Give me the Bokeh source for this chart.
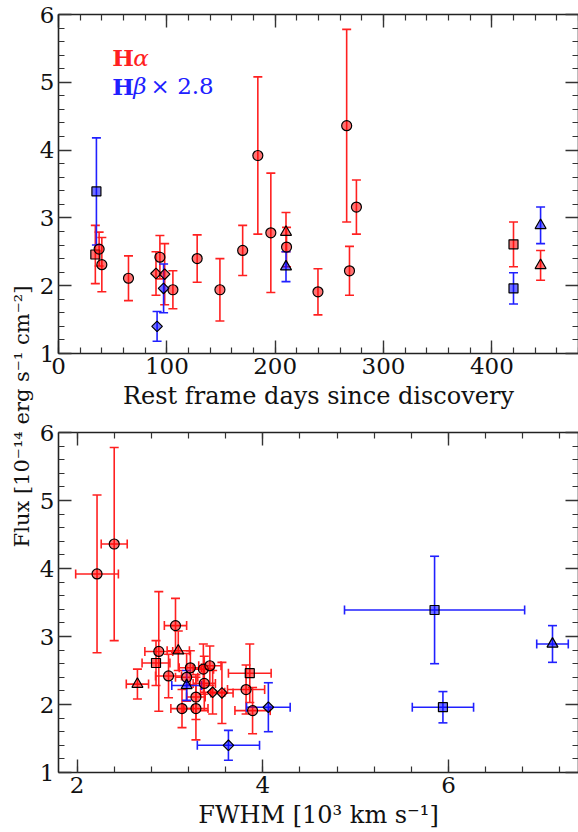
import numpy as np
from bokeh.plotting import figure
from bokeh.models import (ColumnDataSource, Whisker, TeeHead, LinearAxis,
                          FixedTicker, Label, Range1d, CustomLabelingPolicy)
from bokeh.layouts import row, column
from bokeh.embed import file_html
from bokeh.resources import INLINE

# ---------------- data ----------------
# H-alpha measurements
ha_marker = ["square", "circle", "circle", "circle", "diamond", "circle", "diamond",
             "circle", "circle", "circle", "circle", "circle", "circle", "triangle",
             "circle", "circle", "circle", "circle", "circle", "square", "triangle"]
ha_day = [34, 37.5, 40, 64.6, 90, 93.6, 98, 105.6, 128, 149, 170, 184, 196, 210,
          210.5, 239.5, 266, 268.6, 275, 420, 445]
ha_flux = [2.46, 2.54, 2.31, 2.11, 2.18, 2.42, 2.17, 1.94, 2.40, 1.94, 2.52, 3.92,
           2.78, 2.79, 2.57, 1.91, 4.36, 2.22, 3.16, 2.61, 2.30]
ha_flux_err = [0.43, 0.25, 0.40, 0.33, 0.32, 0.32, 0.45, 0.28, 0.35, 0.46, 0.37, 1.16,
               0.88, 0.29, 0.29, 0.34, 1.42, 0.36, 0.40, 0.33, 0.22]
ha_fwhm = [3.86, 3.22, 3.37, 3.28, 3.46, 2.985, 3.56, 3.13, 3.18, 3.28, 3.36, 2.215,
           2.88, 3.09, 3.43, 3.89, 2.40, 3.82, 3.06, 2.85, 2.65]
ha_fwhm_err = [0.23, 0.12, 0.12, 0.10, 0.13, 0.14, 0.12, 0.12, 0.12, 0.13, 0.11, 0.23,
               0.15, 0.12, 0.12, 0.19, 0.14, 0.20, 0.12, 0.15, 0.12]

# H-beta measurements (x 2.8)
hb_marker = ["square", "diamond", "diamond", "triangle", "square", "triangle"]
hb_day = [35, 91, 97, 210, 420, 445]
hb_flux = [3.39, 1.40, 1.96, 2.28, 1.96, 2.89]
hb_flux_err = [0.79, 0.22, 0.36, 0.22, 0.23, 0.27]
hb_fwhm = [5.85, 3.63, 4.06, 3.18, 5.94, 7.12]
hb_fwhm_err = [0.97, 0.335, 0.235, 0.16, 0.33, 0.17]

# ticks
day_ticks = [0, 100, 200, 300, 400]
flux_ticks = [1, 2, 3, 4, 5, 6]
fwhm_ticks = [2, 4, 6]

# ---------------- style ----------------
FONT = "DejaVu Serif"
RED_LINE, RED_FILL = "#ff2020", "#ff0000"
BLUE_LINE, BLUE_FILL = "#2020ff", "#0000ff"
MSIZE = {"circle": 10, "square": 9, "diamond": 7.5, "triangle": 11}
MSHAPE = {"circle": "circle", "square": "square", "diamond": "square", "triangle": "triangle"}
MANGLE = {"circle": 0.0, "square": 0.0, "diamond": np.pi / 4, "triangle": 0.0}

HIDE_LABELS = "for (const i of Array.from(indices)) { indices.unset(i) }"


def style_axis(ax, labels=True):
    ax.major_tick_in = 13
    ax.major_tick_out = 0
    ax.minor_tick_in = 6
    ax.minor_tick_out = 0
    ax.axis_line_color = "#222222"
    ax.axis_line_width = 1.6
    ax.major_tick_line_color = "#333333"
    ax.major_tick_line_width = 1.4
    ax.minor_tick_line_color = "#333333"
    ax.minor_tick_line_width = 1.2
    ax.major_label_text_font = FONT
    ax.major_label_text_color = "#111111"
    ax.major_label_text_font_size = "23px"
    ax.major_label_standoff = 4
    ax.axis_label_text_font = FONT
    ax.axis_label_text_font_style = "normal"
    ax.axis_label_text_font_size = "24px"
    ax.axis_label_text_color = "#111111"
    ax.axis_label_standoff = 5
    if not labels:
        ax.major_label_policy = CustomLabelingPolicy(code=HIDE_LABELS)
        ax.major_label_text_font_size = "1px"
        ax.major_label_standoff = 0


def minor_list(step, lo, hi):
    return [float(v) for v in np.arange(lo, hi + 1e-9, step)]


def make_panel(xkey, xerrkey, xr, xticks, xminor, xlabel, top_b, bottom_b, fh):
    p = figure(frame_width=520, frame_height=fh, x_range=Range1d(*xr),
               y_range=Range1d(1, 6), toolbar_location=None, output_backend="svg",
               min_border_left=22, min_border_right=0, min_border_top=top_b,
               min_border_bottom=bottom_b, x_axis_label=xlabel)
    p.grid.visible = False
    p.outline_line_color = None
    p.background_fill_color = "white"
    xt = FixedTicker(ticks=xticks, minor_ticks=xminor)
    yt = FixedTicker(ticks=flux_ticks, minor_ticks=minor_list(0.2, 1, 6))
    p.xaxis.ticker = xt
    p.yaxis.ticker = yt
    for ax in p.xaxis + p.yaxis:
        style_axis(ax)
    top = LinearAxis(ticker=xt)
    right = LinearAxis(ticker=yt)
    style_axis(top, labels=False)
    style_axis(right, labels=False)
    p.add_layout(top, "above")
    p.add_layout(right, "right")

    series = [
        (ha_marker, ha_day, ha_flux, ha_flux_err, ha_fwhm, ha_fwhm_err, RED_LINE, RED_FILL),
        (hb_marker, hb_day, hb_flux, hb_flux_err, hb_fwhm, hb_fwhm_err, BLUE_LINE, BLUE_FILL),
    ]
    for mk, day, fl, fle, fw, fwe, lc, fc in series:
        d = dict(day=np.array(day, float), fwhm=np.array(fw, float),
                 fwhm_err=np.array(fwe, float))
        flux = np.array(fl, float)
        ferr = np.array(fle, float)
        x = d[xkey]
        data = dict(x=x, y=flux, yl=flux - ferr, yu=flux + ferr,
                    marker=[MSHAPE[m] for m in mk],
                    size=[MSIZE[m] for m in mk],
                    angle=[MANGLE[m] for m in mk])
        if xerrkey:
            xe = d[xerrkey]
            data["xl"] = x - xe
            data["xu"] = x + xe
        src = ColumnDataSource(data)
        p.add_layout(Whisker(source=src, base="x", lower="yl", upper="yu",
                             dimension="height", line_color=lc, line_width=1.6,
                             upper_head=TeeHead(size=9, line_color=lc, line_width=1.6),
                             lower_head=TeeHead(size=9, line_color=lc, line_width=1.6)))
        if xerrkey:
            p.add_layout(Whisker(source=src, base="y", lower="xl", upper="xu",
                                 dimension="width", line_color=lc, line_width=1.6,
                                 upper_head=TeeHead(size=9, line_color=lc, line_width=1.6),
                                 lower_head=TeeHead(size=9, line_color=lc, line_width=1.6)))
        p.scatter("x", "y", source=src, marker="marker", size="size", angle="angle",
                  fill_color=fc, fill_alpha=0.55, line_color="black", line_width=1.2)
    return p


top = make_panel("day", None, (0, 480), day_ticks, minor_list(20, 0, 480),
                 "Rest frame days since discovery", 14, 63, 339)
bottom = make_panel("fwhm", "fwhm_err", (1.8, 7.4), fwhm_ticks,
                    minor_list(0.4, 1.6, 7.6),
                    "FWHM [10³ km s⁻¹]", 16, 60, 340)

# legend text in the top panel
LEG = dict(text_font=FONT, text_font_size="23px", text_baseline="alphabetic")
top.add_layout(Label(x=49.6, y=5.36, text="H", text_font_style="bold", text_color=RED_LINE, **LEG))
top.add_layout(Label(x=69, y=5.36, text="α", text_font_style="italic", text_color=RED_LINE, **LEG))
top.add_layout(Label(x=49.6, y=4.94, text="H", text_font_style="bold", text_color=BLUE_LINE, **LEG))
top.add_layout(Label(x=69, y=4.94, text="β", text_font_style="italic", text_color=BLUE_LINE, **LEG))
top.add_layout(Label(x=85, y=4.94, text="× 2.8", text_color=BLUE_LINE, **LEG))

# shared y-axis label
lab = figure(width=36, height=832, x_range=Range1d(0, 36), y_range=Range1d(0, 832),
             toolbar_location=None, output_backend="svg", min_border=0,
             x_axis_type=None, y_axis_type=None)
lab.grid.visible = False
lab.outline_line_color = None
lab.add_layout(Label(x=21, y=416, text="Flux [10⁻¹⁴ erg s⁻¹ cm⁻²]", angle=np.pi / 2,
                     text_align="center", text_baseline="middle", text_font=FONT,
                     text_font_size="21px", text_color="#111111"))

layout = row(lab, column(top, bottom))
open("out.html", "w").write(file_html(layout, INLINE))
